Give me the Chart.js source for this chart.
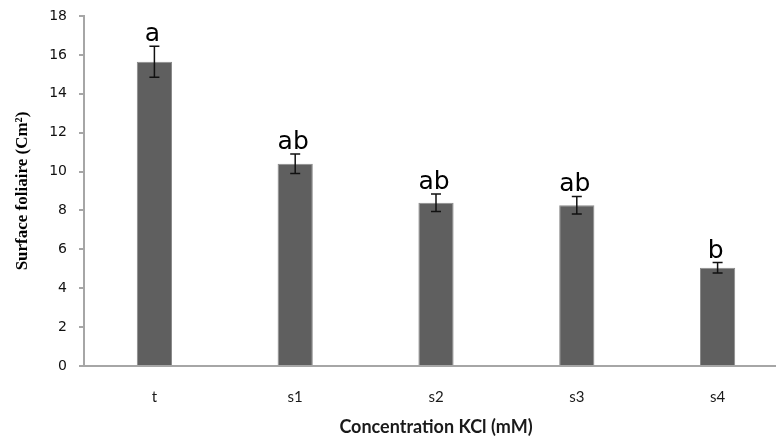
<!DOCTYPE html>
<html>
<head>
<meta charset="utf-8">
<script src="https://cdn.jsdelivr.net/npm/chart.js@4"></script>
<style>
html,body{margin:0;padding:0;background:#fff;overflow:hidden;width:776px;height:438px;}
#wrap{width:790px;height:438px;}
</style>
</head>
<body>
<div id="wrap"><canvas id="c" width="790" height="438"></canvas></div>
<script>
const categories = ['t', 's1', 's2', 's3', 's4'];
const meanValues = [15.65, 10.4, 8.4, 8.27, 5.05];
const errorValues = [0.8, 0.5, 0.45, 0.45, 0.27];
const groupLetters = ['a', 'ab', 'ab', 'ab', 'b'];
const yTicks = [0, 2, 4, 6, 8, 10, 12, 14, 16, 18];

const errorPlugin = {
  id: 'errorLetters',
  afterDatasetsDraw(chart) {
    const ctx = chart.ctx;
    const xs = chart.scales.x, ys = chart.scales.y;
    ctx.save();
    meanValues.forEach((v, i) => {
      const x = xs.getPixelForValue(i);
      const yTop = ys.getPixelForValue(v + errorValues[i]);
      const yBot = ys.getPixelForValue(v - errorValues[i]);
      ctx.strokeStyle = '#111';
      ctx.lineWidth = 1.5;
      ctx.beginPath();
      ctx.moveTo(x, yTop); ctx.lineTo(x, yBot);
      ctx.moveTo(x - 5, yTop); ctx.lineTo(x + 5, yTop);
      ctx.moveTo(x - 5, yBot); ctx.lineTo(x + 5, yBot);
      ctx.stroke();
      ctx.fillStyle = '#000';
      ctx.font = '25px "DejaVu Sans"';
      ctx.textAlign = 'center';
      ctx.textBaseline = 'alphabetic';
      ctx.fillText(groupLetters[i], x - 2, yTop - 5);
    });
    ctx.restore();
  }
};

new Chart(document.getElementById('c'), {
  type: 'bar',
  data: {
    labels: categories,
    datasets: [{
      data: meanValues,
      backgroundColor: '#5f5f5f',
      borderColor: '#8a8a8a',
      borderWidth: 1,
      barPercentage: 0.25,
      categoryPercentage: 1.0
    }]
  },
  options: {
    responsive: false,
    animation: false,
    devicePixelRatio: 1,
    layout: { padding: { left: 4, top: 16, right: 2, bottom: 0 } },
    plugins: { legend: { display: false }, tooltip: { enabled: false } },
    scales: {
      x: {
        afterFit(scale) { scale.height = 72; },
        grid: { display: false, drawTicks: false },
        border: { display: true, color: '#a6a6a6', width: 2 },
        ticks: { color: '#1a1a1a', font: { family: 'Lato', size: 15 }, padding: 22 },
        title: {
          display: true,
          text: 'Concentration KCl (mM)',
          color: '#1a1a1a',
          font: { family: 'Lato', size: 18, weight: 'bold' },
          padding: { top: 4, bottom: 0 }
        }
      },
      y: {
        min: 0, max: 18,
        afterBuildTicks(scale) { scale.ticks = yTicks.map(v => ({ value: v })); },
        afterFit(scale) { scale.width = 80; scale.paddingTop = 0; scale.paddingBottom = 0; },
        grid: { display: true, drawOnChartArea: false, drawTicks: true, tickLength: 5, color: '#a6a6a6', lineWidth: 2 },
        border: { display: true, color: '#a6a6a6', width: 2 },
        ticks: { color: '#111', font: { family: 'DejaVu Sans', size: 14 }, padding: 12 },
        title: {
          display: true,
          text: 'Surface foliaire (Cm²)',
          color: '#000',
          font: { family: 'Liberation Serif', size: 17, weight: 'bold' },
          padding: { top: 8, bottom: 0 }
        }
      }
    }
  },
  plugins: [errorPlugin]
});
</script>
</body>
</html>
